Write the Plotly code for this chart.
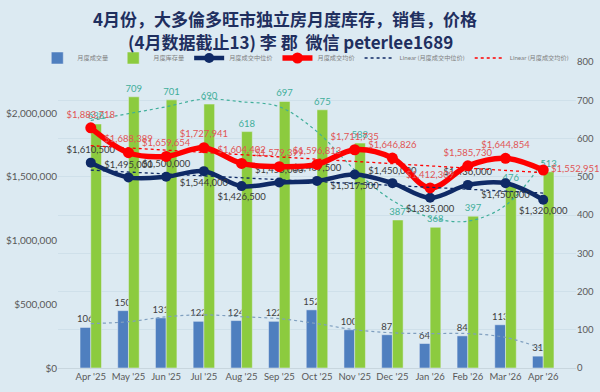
import plotly.graph_objects as go

months = ["Apr '25", "May '25", "Jun '25", "Jul '25", "Aug '25", "Sep '25", "Oct '25",
          "Nov '25", "Dec '25", "Jan '26", "Feb '26", "Mar '26", "Apr '26"]
sales = [106, 150, 131, 122, 124, 122, 152, 100, 87, 64, 84, 113, 31]
inventory = [638, 709, 701, 690, 618, 697, 675, 588, 387, 368, 397, 476, 513]
median_price = [1610500, 1495000, 1500000, 1544000, 1426500, 1455000, 1467500,
                1517500, 1450000, 1335000, 1436000, 1450000, 1320000]
avg_price = [1883718, 1688389, 1659654, 1727941, 1604402, 1579399, 1596813,
             1711735, 1646826, 1412309, 1585730, 1644854, 1552951]
price_ticks = [0, 500000, 1000000, 1500000, 2000000]
price_tick_labels = ["$0", "$500,000", "$1,000,000", "$1,500,000", "$2,000,000"]

# trendlines
median_trend_x = ["Apr '25", "Apr '26"]
median_trend = [1552000, 1372000]
avg_trend_x = ["Apr '25", "Apr '26"]
avg_trend = [1744000, 1532000]
inventory_trend = [647, 665, 683, 703, 696, 683, 618, 518, 438, 394, 384, 425, 540]
sales_trend = [116, 121, 134, 139, 134, 129, 116, 100, 92, 90, 90, 80, 50]

median_pos = ["top center", "top center", "top center", "bottom center", "bottom center",
              "top center", "top center", "bottom center", "top center", "bottom center",
              "top center", "bottom center", "bottom center"]
avg_pos = ["top center"] * 12 + ["middle right"]

BG = "#DCEAF2"
NAVY = "#0F2A66"
RED = "#FF0000"
BLUE = "#4F7FBF"
GREEN = "#8CCB3F"
TEAL = "#3FAE9A"
FONT = "Lato, 'Noto Sans CJK SC', sans-serif"

L, R, T, B = 58, 24, 62, 24
W, H = 600, 392
PW, PH = W - L - R, H - T - B

fig = go.Figure()

fig.add_trace(go.Bar(x=months, y=sales, name="月度成交量", marker_color=BLUE,
                     text=[str(v) for v in sales], textposition="outside",
                     constraintext="none",
                     textfont=dict(color="#404040", size=9.5), cliponaxis=False, yaxis="y"))
fig.add_trace(go.Bar(x=months, y=inventory, name="月度库存量", marker_color=GREEN,
                     text=[str(v) for v in inventory], textposition="outside",
                     constraintext="none",
                     textfont=dict(color=TEAL, size=9.5), cliponaxis=False, yaxis="y"))
fig.add_trace(go.Scatter(x=months, y=inventory_trend, mode="lines", showlegend=False,
                         line=dict(color=TEAL, width=1.2, dash="dot", shape="spline"),
                         yaxis="y", hoverinfo="skip"))
fig.add_trace(go.Scatter(x=months, y=sales_trend, mode="lines", showlegend=False,
                         line=dict(color="#7F9FBF", width=1.2, dash="dot", shape="spline"),
                         yaxis="y", hoverinfo="skip"))

fig.add_trace(go.Scatter(x=months, y=median_price, name="月度成交中位价",
                         mode="lines+markers+text", yaxis="y2",
                         line=dict(color=NAVY, width=4.5, shape="spline"),
                         marker=dict(color=NAVY, size=10),
                         text=[f"${v:,}" for v in median_price], textposition=median_pos,
                         textfont=dict(color="#3A3A3A", size=9.5), cliponaxis=False))
fig.add_trace(go.Scatter(x=months, y=avg_price, name="月度成交均价",
                         mode="lines+markers+text", yaxis="y2",
                         line=dict(color=RED, width=5.5, shape="spline"),
                         marker=dict(color=RED, size=11),
                         text=[f"${v:,}" for v in avg_price], textposition=avg_pos,
                         textfont=dict(color="#E05555", size=9.5), cliponaxis=False))
fig.add_trace(go.Scatter(x=median_trend_x, y=median_trend, name="Linear (月度成交中位价)",
                         mode="lines", yaxis="y2",
                         line=dict(color=NAVY, width=1.3, dash="dot")))
fig.add_trace(go.Scatter(x=avg_trend_x, y=avg_trend, name="Linear (月度成交均价)",
                         mode="lines", yaxis="y2",
                         line=dict(color=RED, width=1.3, dash="dot")))

fig.update_layout(
    width=W, height=H,
    paper_bgcolor=BG, plot_bgcolor=BG,
    margin=dict(l=L, r=R, t=T, b=B, autoexpand=False),
    font=dict(family=FONT, size=10, color="#595959"),
    barmode="group", bargap=0.43, bargroupgap=0,
    showlegend=True,
    legend=dict(orientation="h", x=-0.04, xanchor="left", y=1.0 + 4 / PH, yanchor="middle",
                font=dict(size=6.2, color="#7F7F7F"), itemwidth=30,
                bgcolor="rgba(0,0,0,0)", traceorder="normal"),
    xaxis=dict(type="category", showgrid=False, showline=True, linecolor="#C8D6DE",
               ticks="", tickfont=dict(size=9.5, color="#595959")),
    yaxis=dict(side="right", range=[0, 800], dtick=100, showgrid=True,
               gridcolor="#CFE0EA", zeroline=False, tickfont=dict(size=9.5, color="#595959")),
    yaxis2=dict(side="left", overlaying="y", range=[0, 2400000],
                tickvals=price_ticks, ticktext=price_tick_labels,
                showgrid=False, zeroline=False,
                tickfont=dict(size=10, color="#595959")),
)
fig.add_annotation(text="<b>4月份，大多倫多旺市独立房月度库存，销售，价格</b>",
                   x=(285 - L) / PW, y=(H - B - 18) / PH, xref="paper", yref="paper",
                   xanchor="center", yanchor="middle", showarrow=False,
                   font=dict(size=17, color="#1F2F5F", family="'Noto Sans CJK SC', sans-serif"))
fig.add_annotation(text="<b>(4月数据截止13) 李 郡  微信 peterlee1689</b>",
                   x=(290 - L) / PW, y=(H - B - 41) / PH, xref="paper", yref="paper",
                   xanchor="center", yanchor="middle", showarrow=False,
                   font=dict(size=17, color="#1F2F5F", family="'Noto Sans CJK SC', sans-serif"))

fig.write_html("out.html", config={"displayModeBar": False},
               post_script="document.body.style.margin='0';document.body.style.padding='0';"
                           "document.documentElement.style.overflow='hidden';")
